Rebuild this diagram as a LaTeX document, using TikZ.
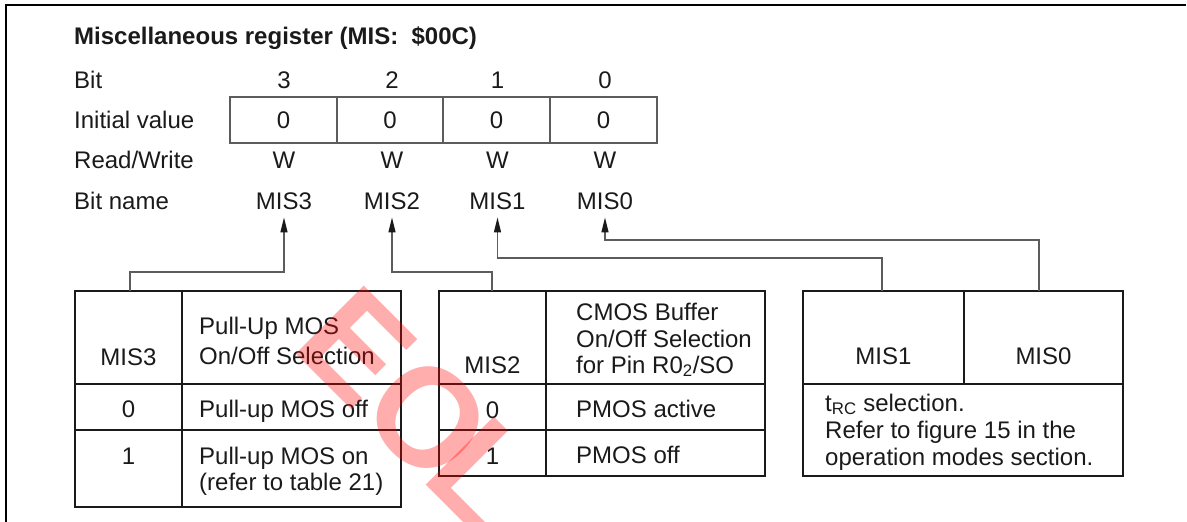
\documentclass[tikz,border=0pt]{standalone}
\usepackage{fontspec}
\setmainfont{Liberation Sans}
\usetikzlibrary{arrows.meta,positioning}
\definecolor{RegInk}{HTML}{1A1A1A}
\definecolor{RegLine}{HTML}{5C5C5C}
\definecolor{RegStamp}{HTML}{FF0000}
\newcommand{\regsize}{\fontsize{24}{28}\selectfont}
\tikzset{
  reg/text/.style={inner sep=0pt, font=\regsize, text=RegInk},
  reg/title/.style={reg/text, font=\regsize\bfseries},
  reg/cell/.style={
    draw=RegLine, line width=1.4pt, minimum width=107pt, minimum height=46pt,
    inner sep=0pt, font=\regsize, text=RegInk
  },
  reg/table/.style={draw=RegInk, line width=1.4pt},
  reg/frame/.style={draw=black, line width=1.6pt},
  reg/link/.style={
    -{Triangle[length=15pt,width=7pt,color=RegInk]}, line width=1.4pt,
    draw=RegLine, shorten >=8pt
  },
  reg/stamp/.style={
    inner sep=0pt, font=\fontsize{140}{140}\selectfont\bfseries,
    text=RegStamp, text opacity=0.32
  }
}
\begin{document}
\begin{tikzpicture}[x=1pt,y=-1pt]
  \useasboundingbox (0,0) rectangle (1187,522);
  \draw[reg/frame] (1186,5) -- (6,5) -- (6,522);
  \node[reg/title,anchor=base west] (title) at (74,44) {Miscellaneous register (MIS:\ \ \$00C)};
  % register rows
  \node[reg/text,anchor=base west] (lbit) at (74,88) {Bit};
  \node[reg/text,anchor=base west] (linit) at (74,128) {Initial value};
  \node[reg/text,anchor=base west] (lrw) at (74,168) {Read/Write};
  \node[reg/text,anchor=base west] (lname) at (74,209) {Bit name};
  \foreach \b/\x/\t in {3/283.5/284,2/390/392,1/496.5/497.5,0/603.5/605}{
    \node[reg/text,anchor=base] (bit\b) at (\t,88) {\b};
    \node[reg/cell] (iv\b) at (\x,120) {0};
    \node[reg/text,anchor=base] (rw\b) at (\t,168) {W};
    \node[reg/text,anchor=base] (nm\b) at (\t,209) {MIS\b};
  }
  % MIS3 table
  \draw[reg/table] (75,291) rectangle (401,507);
  \draw[reg/table] (182,291) -- (182,507) (75,384) -- (401,384) (75,430) -- (401,430);
  \node[reg/text,anchor=base] (hA) at (128.5,365) {MIS3};
  \node[reg/text,anchor=base west] (hA1) at (199,334) {Pull-Up MOS};
  \node[reg/text,anchor=base west] (hA2) at (199,364) {On/Off Selection};
  \node[reg/text,anchor=base] (vA0) at (128.5,417) {0};
  \node[reg/text,anchor=base west] (dA0) at (199,417) {Pull-up MOS off};
  \node[reg/text,anchor=base] (vA1) at (128.5,464) {1};
  \node[reg/text,anchor=base west] (dA1) at (199,464) {Pull-up MOS on};
  \node[reg/text,anchor=base west] (dA2) at (199,490) {(refer to table 21)};
  % MIS2 table
  \draw[reg/table] (439,291) rectangle (765,476);
  \draw[reg/table] (546,291) -- (546,476) (439,384) -- (765,384) (439,430) -- (765,430);
  \node[reg/text,anchor=base] (hB) at (492.5,373) {MIS2};
  \node[reg/text,anchor=base west] (hB1) at (576,320) {CMOS Buffer};
  \node[reg/text,anchor=base west] (hB2) at (576,347) {On/Off Selection};
  \node[reg/text,anchor=base west] (hB3) at (576,373) {for Pin R0\textsubscript{2}/SO};
  \node[reg/text,anchor=base] (vB0) at (492.5,418) {0};
  \node[reg/text,anchor=base west] (dB0) at (576,417) {PMOS active};
  \node[reg/text,anchor=base] (vB1) at (492.5,464) {1};
  \node[reg/text,anchor=base west] (dB1) at (576,463) {PMOS off};
  % MIS1/MIS0 table
  \draw[reg/table] (803,291) rectangle (1123,476);
  \draw[reg/table] (964,291) -- (964,384) (803,384) -- (1123,384);
  \node[reg/text,anchor=base] (hC1) at (883.5,364) {MIS1};
  \node[reg/text,anchor=base] (hC0) at (1043.5,364) {MIS0};
  \node[reg/text,anchor=base west] (dC1) at (825,411) {t\textsubscript{RC} selection.};
  \node[reg/text,anchor=base west] (dC2) at (825,438) {Refer to figure 15 in the};
  \node[reg/text,anchor=base west] (dC3) at (825,465) {operation modes section.};
  % links from tables up to bit names
  \coordinate (inA) at (130,291);
  \coordinate (inB) at (492,291);
  \coordinate (inC1) at (882,291);
  \coordinate (inC0) at (1039,291);
  \draw[reg/link] (inA) -- ++(0,-19) -| (nm3.south);
  \draw[reg/link] (inB) -- ++(0,-19) -| (nm2.south);
  \draw[reg/link] (inC1) -- ++(0,-33) -| (nm1.south);
  \draw[reg/link] (inC0) -- ++(0,-51) -| (nm0.south);
  % stamp
  \node[reg/stamp,rotate=-45] (eol) at (419,409) {EO\kern-18pt L};
\end{tikzpicture}
\end{document}
